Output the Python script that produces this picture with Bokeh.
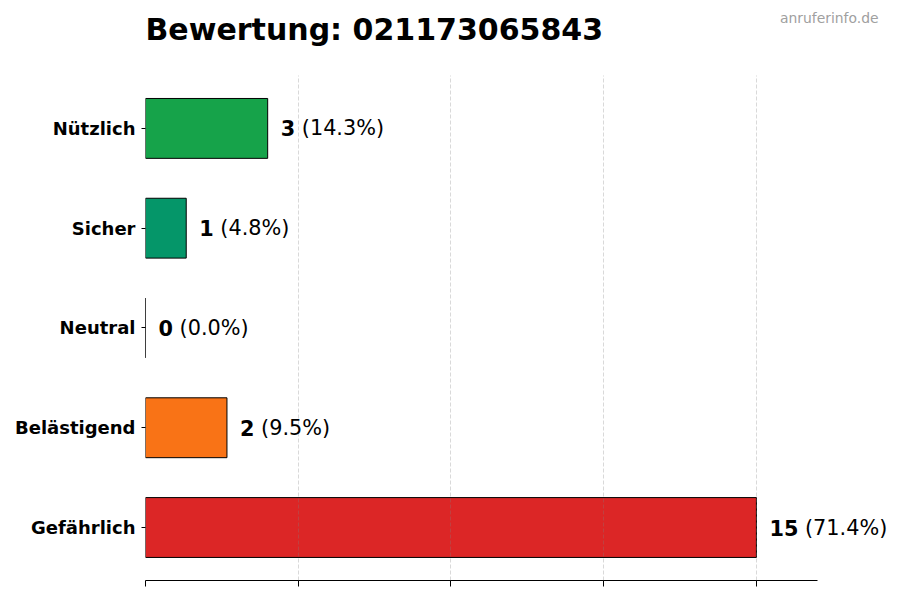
from bokeh.plotting import figure
from bokeh.models import ColumnDataSource, Range1d, FixedTicker, LabelSet, Label
from bokeh.core.properties import value
from bokeh.embed import file_html
from bokeh.resources import INLINE

categories = ["Nützlich", "Sicher", "Neutral", "Belästigend", "Gefährlich"]
counts = [3, 1, 0, 2, 15]
colors = ["#16a34a", "#059669", "#9ca3af", "#f97316", "#dc2626"]
x_ticks = [0, 3.75, 7.5, 11.25, 15]
title_text = "Bewertung: 021173065843"
watermark = "anruferinfo.de"

FONT = "DejaVu Sans"
total = sum(counts)
pcts = [c / total * 100 for c in counts]
ypos = list(range(len(categories)))[::-1]
digit_w = 14.5

src = ColumnDataSource(dict(
    y=ypos,
    count=counts,
    color=colors,
    num=[str(c) for c in counts],
    pct=[f"({v:.1f}%)" for v in pcts],
    pct_off=[13 + digit_w * len(str(c)) + 6.6 for c in counts],
))

# layout (pixels)
LEFT, AXIS_W, FRAME_W, FRAME_H, BOTTOM = 145, 672, 755, 580, 20
x_axis_end = max(counts) * 1.1
y_lo, y_hi = -0.531, len(categories) - 1 + 1.282

p = figure(
    x_range=Range1d(0, x_axis_end * FRAME_W / AXIS_W),
    y_range=Range1d(y_lo, y_hi),
    frame_width=FRAME_W, frame_height=FRAME_H,
    output_backend="svg", toolbar_location=None,
    min_border_left=LEFT, min_border_right=0, min_border_top=0, min_border_bottom=BOTTOM,
)
p.outline_line_color = None
p.background_fill_color = "white"
p.border_fill_color = "white"

p.hbar(y="y", left=0, right="count", height=0.6, fill_color="color",
       line_color="black", line_width=1, source=src)

# x axis
p.xaxis.ticker = FixedTicker(ticks=x_ticks)
p.xaxis.bounds = (0, x_axis_end)
p.xaxis.major_label_overrides = {t: "" for t in x_ticks}
p.xaxis.major_label_text_font_size = "1px"
p.xaxis.major_label_standoff = 0
p.xaxis.minor_tick_line_color = None
p.xaxis.major_tick_in = 0
p.xaxis.major_tick_out = 6
p.xaxis.axis_line_color = "black"
p.xaxis.major_tick_line_color = "black"

# y axis
p.yaxis.ticker = FixedTicker(ticks=ypos)
p.yaxis.major_label_overrides = {y: c for y, c in zip(ypos, categories)}
p.yaxis.minor_tick_line_color = None
p.yaxis.axis_line_color = None
p.yaxis.major_tick_in = 0
p.yaxis.major_tick_out = 4
p.yaxis.major_tick_line_color = "black"
p.yaxis.major_label_text_font = FONT
p.yaxis.major_label_text_font_size = "18px"
p.yaxis.major_label_text_font_style = "bold"
p.yaxis.major_label_text_color = "black"
p.yaxis.major_label_standoff = 6

# grid
p.ygrid.grid_line_color = None
p.xgrid.grid_line_color = "gray"
p.xgrid.grid_line_alpha = 0.3
p.xgrid.grid_line_dash = "4 2"
p.xgrid.cross_bounds = (-0.531, len(categories) - 1 + 0.531)
p.xgrid.level = "guide"

# value labels
p.add_layout(LabelSet(x="count", y="y", text="num", source=src, x_offset=13,
                      text_font=value(FONT), text_font_size="20.8px", text_font_style="bold",
                      text_baseline="middle", text_align="left", text_color="black"))
p.add_layout(LabelSet(x="count", y="y", text="pct", source=src, x_offset="pct_off",
                      text_font=value(FONT), text_font_size="20.8px",
                      text_baseline="middle", text_align="left", text_color="black"))

# title and watermark (screen units, relative to the frame)
p.add_layout(Label(x=0, y=FRAME_H - 28.5, x_units="screen", y_units="screen", text=title_text,
                   text_font=FONT, text_font_size="30px", text_font_style="bold",
                   text_color="black", text_align="left", text_baseline="alphabetic"))
p.add_layout(Label(x=878 - LEFT, y=FRAME_H - 17.5, x_units="screen", y_units="screen",
                   text=watermark, text_font=FONT, text_font_size="13.9px",
                   text_color="#a0a0a0", text_align="right", text_baseline="alphabetic"))

open("out.html", "w").write(file_html(p, INLINE))
